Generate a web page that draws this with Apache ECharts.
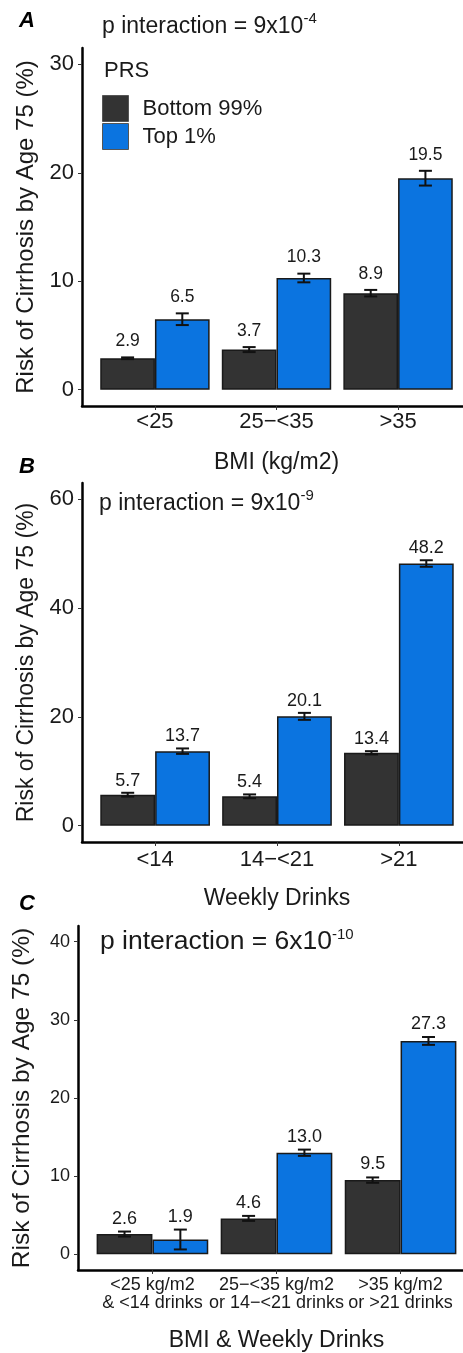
<!DOCTYPE html>
<html>
<head>
<meta charset="utf-8">
<script src="https://cdn.jsdelivr.net/npm/echarts@6/dist/echarts.min.js"></script>
<style>
html, body { margin: 0; padding: 0; background: #fff; overflow: hidden; }
/* the plot panels run a little past the right edge of the picture, as in the source */
#chart { width: 480px; height: 1353px; }
</style>
</head>
<body>
<div id="chart"></div>
<script>
const prsGroups = ['Bottom 99%', 'Top 1%'];
const prsColors = ['#333333', '#0b74e0'];

// A: BMI
const bmiCats = ['<25', '25−<35', '>35'];
const bmiBottom = [2.9, 3.7, 8.9];
const bmiTop = [6.5, 10.3, 19.5];
const bmiBottomErr = [0.08, 0.23, 0.3];
const bmiTopErr = [0.54, 0.4, 0.68];
const bmiTicks = [0, 10, 20, 30];

// B: weekly drinks
const drinkCats = ['<14', '14−<21', '>21'];
const drinkBottom = [5.7, 5.4, 13.4];
const drinkTop = [13.7, 20.1, 48.2];
const drinkBottomErr = [0.35, 0.35, 0.3];
const drinkTopErr = [0.5, 0.64, 0.6];
const drinkTicks = [0, 20, 40, 60];

// C: BMI & weekly drinks
const bothCats = ['<25 kg/m2\n& <14 drinks', '25−<35 kg/m2\nor 14−<21 drinks', '>35 kg/m2\nor >21 drinks'];
const bothBottom = [2.6, 4.6, 9.5];
const bothTop = [1.9, 13.0, 27.3];
const bothBottomErr = [0.32, 0.32, 0.34];
const bothTopErr = [1.27, 0.4, 0.5];
const bothTicks = [0, 10, 20, 30, 40];

const font = '"Liberation Sans", Arial, sans-serif';
const ink = '#1a1a1a';

const panels = [
    {
        letter: 'A', cats: bmiCats, bottom: bmiBottom, top: bmiTop,
        bottomErr: bmiBottomErr, topErr: bmiTopErr, ticks: bmiTicks,
        xName: 'BMI (kg/m2)', p: '9x10', pExp: '-4',
        grid: { left: 82, top: 48, width: 389, height: 358 },
        yMin: -1.5, yMax: 31.5,
        tickSize: 22, nameSize: 24, valueSize: 17.5, labelGap: 16,
        xNameGap: 45, xLabelMargin: 5, xLabelLH: 22,
        letterTop: 10, pTop: 11.5, pLeft: 102, pSize: 23, supLH: 24
    },
    {
        letter: 'B', cats: drinkCats, bottom: drinkBottom, top: drinkTop,
        bottomErr: drinkBottomErr, topErr: drinkTopErr, ticks: drinkTicks,
        xName: 'Weekly Drinks', p: '9x10', pExp: '-9',
        grid: { left: 82, top: 483, width: 390, height: 359 },
        yMin: -3, yMax: 63,
        tickSize: 22, nameSize: 23, valueSize: 18, labelGap: 12,
        xNameGap: 45, xLabelMargin: 7, xLabelLH: 22,
        letterTop: 456, pTop: 488.5, pLeft: 99, pSize: 23, supLH: 24
    },
    {
        letter: 'C', cats: bothCats, bottom: bothBottom, top: bothTop,
        bottomErr: bothBottomErr, topErr: bothTopErr, ticks: bothTicks,
        xName: 'BMI & Weekly Drinks', p: '6x10', pExp: '-10',
        grid: { left: 78, top: 926, width: 397, height: 345 },
        yMin: -2, yMax: 42,
        tickSize: 18, nameSize: 24.5, valueSize: 18, labelGap: 13,
        xNameGap: 59, xLabelMargin: 6, xLabelLH: 18,
        letterTop: 893, pTop: 927, pLeft: 100, pSize: 26.5, supLH: 21.5
    }
];

function errorBars(dodge, labelGap, valueSize) {
    return function (params, api) {
        const x = api.value(0);
        const v = api.value(1);
        const e = api.value(2);
        const unit = api.size([1, 0])[0];
        const hi = api.coord([x, v + e]);
        const lo = api.coord([x, v - e]);
        const cx = hi[0] + dodge * unit * 0.225;
        const hw = 6.5;
        const style = { stroke: '#111', lineWidth: 2 };
        return {
            type: 'group',
            children: [
                { type: 'line', shape: { x1: cx, y1: hi[1], x2: cx, y2: lo[1] }, style },
                { type: 'line', shape: { x1: cx - hw, y1: hi[1], x2: cx + hw, y2: hi[1] }, style },
                { type: 'line', shape: { x1: cx - hw, y1: lo[1], x2: cx + hw, y2: lo[1] }, style },
                {
                    type: 'text', x: cx, y: hi[1] - labelGap,
                    style: {
                        text: v.toFixed(1), fill: ink, align: 'center', verticalAlign: 'middle',
                        fontSize: valueSize, fontFamily: font
                    }
                }
            ]
        };
    };
}

const grids = [], xAxes = [], yAxes = [], series = [], titles = [];

panels.forEach((p, i) => {
    grids.push(p.grid);
    const cats = p.cats;
    xAxes.push({
        gridIndex: i, type: 'value', min: 0.4, max: 3.6,
        name: p.xName, nameLocation: 'middle', nameGap: p.xNameGap,
        nameTextStyle: { fontSize: 23, fontFamily: font, color: ink },
        axisLine: { show: true, onZero: false, lineStyle: { color: '#000', width: 2.5 } },
        axisTick: { show: true, customValues: [1, 2, 3], length: 4, lineStyle: { color: '#333', width: 1 } },
        axisLabel: {
            customValues: [1, 2, 3], margin: p.xLabelMargin,
            formatter: v => cats[Math.round(v) - 1],
            fontSize: p.tickSize, lineHeight: p.xLabelLH, fontFamily: font, color: ink
        },
        splitLine: { show: false }
    });
    yAxes.push({
        gridIndex: i, type: 'value', min: p.yMin, max: p.yMax,
        name: 'Risk of Cirrhosis by Age 75 (%)', nameLocation: 'middle', nameGap: 43,
        nameTextStyle: { fontSize: p.nameSize, fontFamily: font, color: ink },
        axisLine: { show: true, onZero: false, lineStyle: { color: '#000', width: 2.5 } },
        axisTick: { show: true, customValues: p.ticks, length: 4, lineStyle: { color: '#333', width: 1 } },
        axisLabel: { customValues: p.ticks, margin: 8, fontSize: p.tickSize, fontFamily: font, color: ink },
        splitLine: { show: false }
    });
    const vals = [p.bottom, p.top];
    const errs = [p.bottomErr, p.topErr];
    prsGroups.forEach((g, k) => {
        series.push({
            name: g, type: 'bar', xAxisIndex: i, yAxisIndex: i,
            data: vals[k].map((v, j) => [j + 1, v]),
            barGap: '0%', barCategoryGap: '10%',
            itemStyle: { color: prsColors[k], borderColor: '#1a1a1a', borderWidth: 1.5 }
        });
    });
    prsGroups.forEach((g, k) => {
        series.push({
            name: g + ' CI', type: 'custom', xAxisIndex: i, yAxisIndex: i,
            renderItem: errorBars(k === 0 ? -1 : 1, p.labelGap, p.valueSize),
            data: vals[k].map((v, j) => [j + 1, v, errs[k][j]]),
            encode: { x: 0, y: 1 }, z: 5
        });
    });
    titles.push({
        text: p.letter, left: 19, top: p.letterTop, padding: 0,
        textStyle: { fontSize: 22, fontWeight: 'bold', fontStyle: 'italic', fontFamily: font, color: '#000' }
    });
    titles.push({
        text: '{m|p interaction = ' + p.p + '}{s|' + p.pExp + '}',
        left: p.pLeft, top: p.pTop, padding: 0,
        textStyle: {
            fontWeight: 'normal',
            rich: {
                m: { fontSize: p.pSize, lineHeight: 30, fontWeight: 'normal', fontFamily: font, color: ink },
                s: { fontSize: 15, lineHeight: p.supLH, verticalAlign: 'top', fontWeight: 'normal', fontFamily: font, color: ink }
            }
        }
    });
});

titles.push({
    text: 'PRS', left: 104, top: 60, padding: 0,
    textStyle: { fontSize: 22, fontWeight: 'normal', fontFamily: font, color: ink }
});

const chart = echarts.init(document.getElementById('chart'), null, { renderer: 'canvas' });
chart.setOption({
    animation: false,
    backgroundColor: '#fff',
    title: titles,
    legend: {
        data: prsGroups, orient: 'vertical', left: 102, top: 95, padding: 0,
        itemWidth: 26, itemHeight: 26, itemGap: 1, icon: 'rect', selectedMode: false,
        itemStyle: { borderColor: '#555', borderWidth: 1 },
        textStyle: { fontSize: 22, fontFamily: font, color: ink, padding: [0, 0, 0, 9] }
    },
    grid: grids,
    xAxis: xAxes,
    yAxis: yAxes,
    series
});
</script>
</body>
</html>
